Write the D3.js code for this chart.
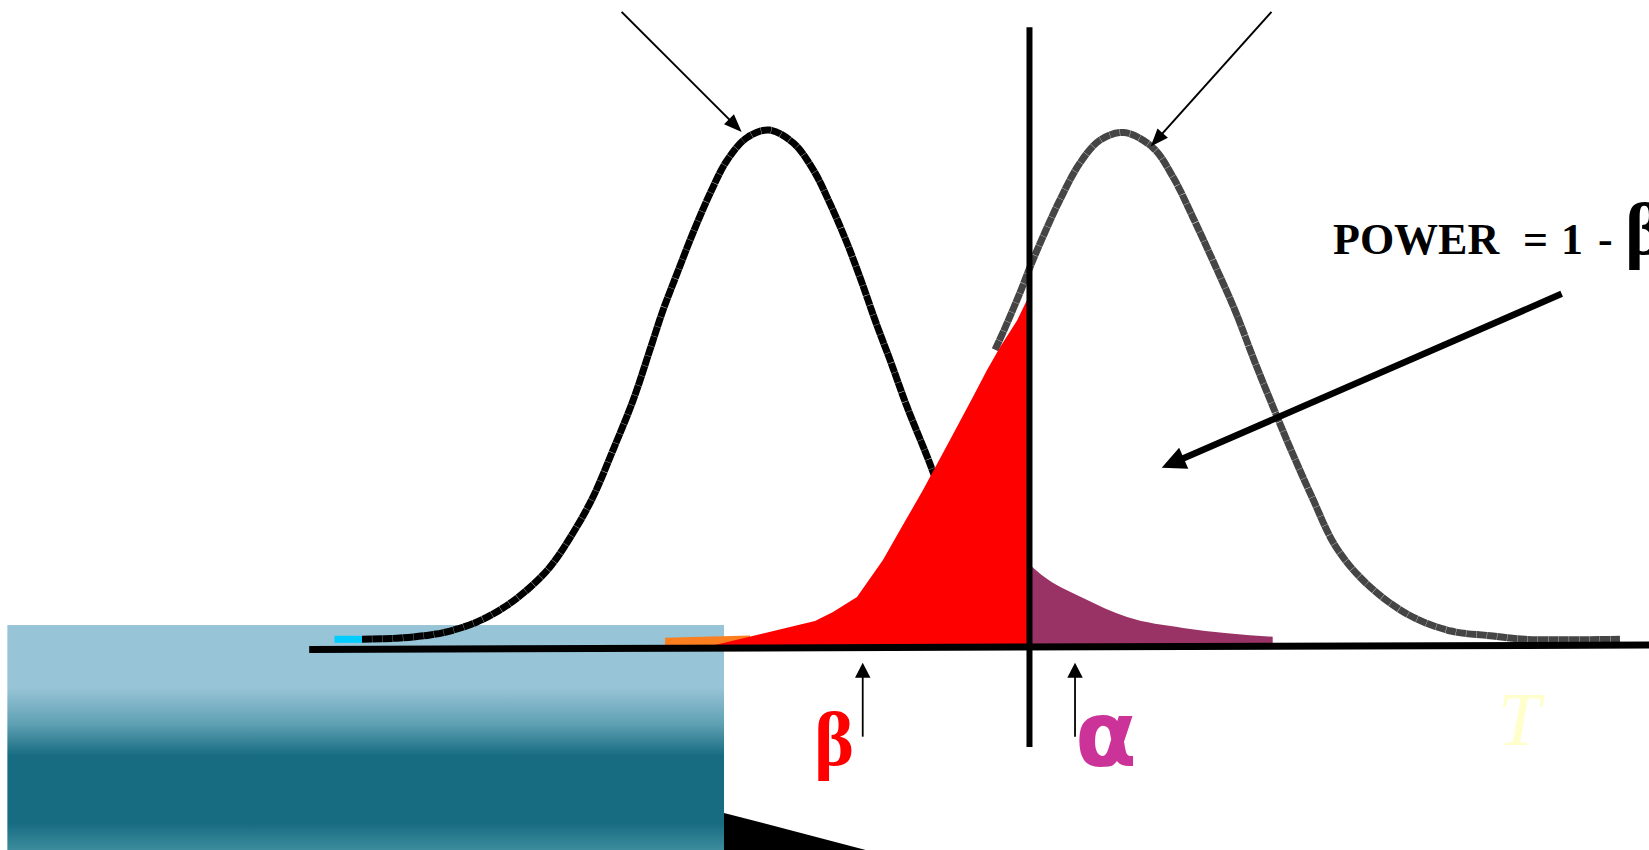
<!DOCTYPE html>
<html>
<head>
<meta charset="utf-8">
<script src="https://cdn.jsdelivr.net/npm/d3@7"></script>
<style>
  html, body { margin: 0; padding: 0; background: #ffffff; overflow: hidden; }
  svg { display: block; }
</style>
</head>
<body>
<svg id="chart" width="1649" height="850"></svg>
<script>
// ---- data: test statistic (x) and density (y) ----
// null distribution H0
const nullX = [-3.95, -3.70, -3.355, -3.082, -2.90, -2.655, -2.418, -2.20, -1.991, -1.782,
               -1.60, -1.418, -1.236, -1.082, -0.964, -0.836, -0.691, -0.536, -0.382, -0.20,
               0.0, 0.218, 0.40, 0.555, 0.709, 0.827, 0.982, 1.10, 1.255, 1.464, 1.645];
const nullY = [-0.001, -0.001, 0.0, 0.0024, 0.0055, 0.0126, 0.0236, 0.0378, 0.0559, 0.0827,
               0.111, 0.148, 0.187, 0.227, 0.258, 0.287, 0.319, 0.350, 0.376, 0.394,
               0.400, 0.390, 0.369, 0.342, 0.311, 0.284, 0.246, 0.219, 0.182, 0.137, 0.093];

// alternative distribution H1
const altX = [2.055, 2.145, 2.282, 2.373, 2.491, 2.645, 2.827, 3.009, 3.227,
              3.491, 3.673, 3.855, 4.036, 4.236, 4.418, 4.582, 4.736, 4.936, 5.155,
              5.436, 5.818, 6.20, 6.582, 6.873, 7.736];
const altY = [0.227, 0.244, 0.272, 0.292, 0.316, 0.345, 0.374, 0.392, 0.398,
              0.386, 0.363, 0.331, 0.297, 0.258, 0.217, 0.182, 0.150, 0.111, 0.0716,
              0.0425, 0.0181, 0.0055, 0.0016, -0.001, -0.001];

// beta region (H1 below the critical value), upper edge
const betaX = [-0.509, 0.418, 0.582, 0.80, 1.036, 1.191, 1.40, 1.645, 1.855, 1.982, 2.10, 2.255, 2.355];
const betaY = [-0.006, 0.0134, 0.0205, 0.0323, 0.0614, 0.085, 0.1165, 0.156, 0.190, 0.211, 0.229, 0.250, 0.268];

// alpha region (H0 beyond the critical value), upper edge
const alphaX = [2.355, 2.479, 2.855, 3.255, 3.764, 4.579];
const alphaY = [0.059, 0.0496, 0.0315, 0.0165, 0.0079, 0.001];

// far tail of H1 left of the beta region
const tailX = [-0.945, -0.173];
const tailY = [0.0002, 0.002];

// critical value of the test
const critical = 2.368;

// horizontal axis line (ends)
const axisX = [-4.18, 8.0];
const axisY = [-0.009, -0.0055];

// labels
const labelBeta = "β";
const labelAlpha = "α";
const labelT = "T";
const powerWords = ["POWER", "=", "1", "-", "β"];

// ---- scales ----
const x = d3.scaleLinear().domain([-7, 8]).range([-1, 1649]);
const y = d3.scaleLinear().domain([0, 0.4]).range([638, 130]);
const floorY = -0.006;

const svg = d3.select("#chart");
const defs = svg.append("defs");

const zip = (xs, ys) => xs.map((v, i) => ({ x: v, y: ys[i] }));
const serif = "'Liberation Serif', 'Times New Roman', serif";

// backdrop gradient
const grad = defs.append("linearGradient")
  .attr("id", "panelFill").attr("x1", 0).attr("y1", 0).attr("x2", 0).attr("y2", 1);
[[0, "#97c4d6"], [0.28, "#97c4d6"], [0.44, "#5fa0b3"], [0.58, "#176c82"],
 [0.88, "#176c82"], [1, "#3c8c9c"]].forEach(([o, c]) =>
  grad.append("stop").attr("offset", o).attr("stop-color", c));

// dark wedge at the bottom
const wedge = [{ x: -0.409, y: -0.1377 }, { x: 0.882, y: -0.167 }, { x: -0.409, y: -0.167 }];
svg.append("path")
  .attr("d", d3.line().x(d => x(d.x)).y(d => y(d.y))(wedge) + "Z")
  .attr("fill", "#000");

// shaded panel
svg.append("rect")
  .attr("x", x(-6.924)).attr("y", y(0.0102))
  .attr("width", x(-0.409) - x(-6.924))
  .attr("height", y(-0.167) - y(0.0102))
  .attr("fill", "url(#panelFill)");

// H0 curve
const lineSmooth = d3.line().x(d => x(d.x)).y(d => y(d.y)).curve(d3.curveCatmullRom.alpha(0.5));
const nullPts = zip(nullX, nullY);
svg.append("path")
  .attr("d", lineSmooth(nullPts.slice(1)))
  .attr("fill", "none").attr("stroke", "#000").attr("stroke-width", 7)
  .attr("stroke-dasharray", "10 0.3");
svg.append("path")
  .attr("d", d3.line().x(d => x(d.x)).y(d => y(d.y))(nullPts.slice(0, 2)))
  .attr("fill", "none").attr("stroke", "#00ccff").attr("stroke-width", 7);

// H1 curve
svg.append("path")
  .attr("d", lineSmooth(zip(altX, altY)))
  .attr("fill", "none").attr("stroke", "#454545").attr("stroke-width", 7)
  .attr("stroke-dasharray", "10 0.3");

// regions
const areaLin = d3.area().x(d => x(d.x)).y0(y(floorY)).y1(d => y(d.y));
const areaSmooth = d3.area().x(d => x(d.x)).y0(y(floorY)).y1(d => y(d.y)).curve(d3.curveMonotoneX);

svg.append("path").attr("d", areaLin(zip(tailX, tailY))).attr("fill", "#fb7f1f");
svg.append("path").attr("d", areaLin(zip(betaX, betaY))).attr("fill", "#ff0000");
svg.append("path").attr("d", areaSmooth(zip(alphaX, alphaY))).attr("fill", "#993366");

// axis line
svg.append("line")
  .attr("x1", x(axisX[0])).attr("y1", y(axisY[0]))
  .attr("x2", x(axisX[1])).attr("y2", y(axisY[1]))
  .attr("stroke", "#000").attr("stroke-width", 7);

// critical value
svg.append("line")
  .attr("x1", x(critical)).attr("x2", x(critical))
  .attr("y1", y(0.481)).attr("y2", y(-0.0858))
  .attr("stroke", "#000").attr("stroke-width", 6);

// arrows: start/end in data units, head length/width and shaft width in px
function arrow(from, to, headLen, headW, shaft) {
  const x0 = x(from[0]), y0 = y(from[1]), x1 = x(to[0]), y1 = y(to[1]);
  const dx = x1 - x0, dy = y1 - y0, len = Math.hypot(dx, dy);
  const ux = dx / len, uy = dy / len, nx = -uy, ny = ux;
  const bx = x1 - ux * headLen, by = y1 - uy * headLen;
  svg.append("line")
    .attr("x1", x0).attr("y1", y0)
    .attr("x2", bx + ux * 2).attr("y2", by + uy * 2)
    .attr("stroke", "#000").attr("stroke-width", shaft);
  svg.append("path")
    .attr("d", `M${x1},${y1}L${bx + nx * headW / 2},${by + ny * headW / 2}L${bx - nx * headW / 2},${by - ny * headW / 2}Z`)
    .attr("fill", "#000");
}
arrow([-1.34, 0.493], [-0.248, 0.3985], 18, 14, 2);
arrow([4.568, 0.493], [3.47, 0.387], 18, 14, 2);
arrow([7.206, 0.271], [3.57, 0.134], 24, 23, 6.5);
arrow([0.852, -0.0777], [0.852, -0.0194], 15, 15.5, 1.8);
arrow([2.782, -0.0777], [2.782, -0.0194], 15, 15.5, 1.8);

// labels
svg.append("text")
  .attr("x", 814).attr("y", 765)
  .attr("font-family", serif).attr("font-size", 76).attr("font-weight", "bold")
  .attr("fill", "#ff0000").text(labelBeta);
svg.append("text")
  .attr("x", 1075).attr("y", 766)
  .attr("font-family", "'DejaVu Sans', sans-serif").attr("font-size", 90).attr("font-weight", "bold")
  .attr("fill", "#cc3399").text(labelAlpha);
svg.append("text")
  .attr("x", 1498).attr("y", 745)
  .attr("font-family", serif).attr("font-size", 76)
  .attr("font-style", "italic")
  .attr("fill", "#ffffcc").text(labelT);

const power = svg.append("text")
  .attr("y", 254)
  .attr("font-family", serif).attr("font-weight", "bold")
  .attr("font-size", 44).attr("fill", "#000");
const powerPos = [1333, 1523, 1561, 1598, 1625];
powerWords.forEach((w, i) => {
  const t = power.append("tspan").attr("x", powerPos[i]).text(w);
  if (i === 4) t.attr("font-size", 74);
});
</script>
</body>
</html>
